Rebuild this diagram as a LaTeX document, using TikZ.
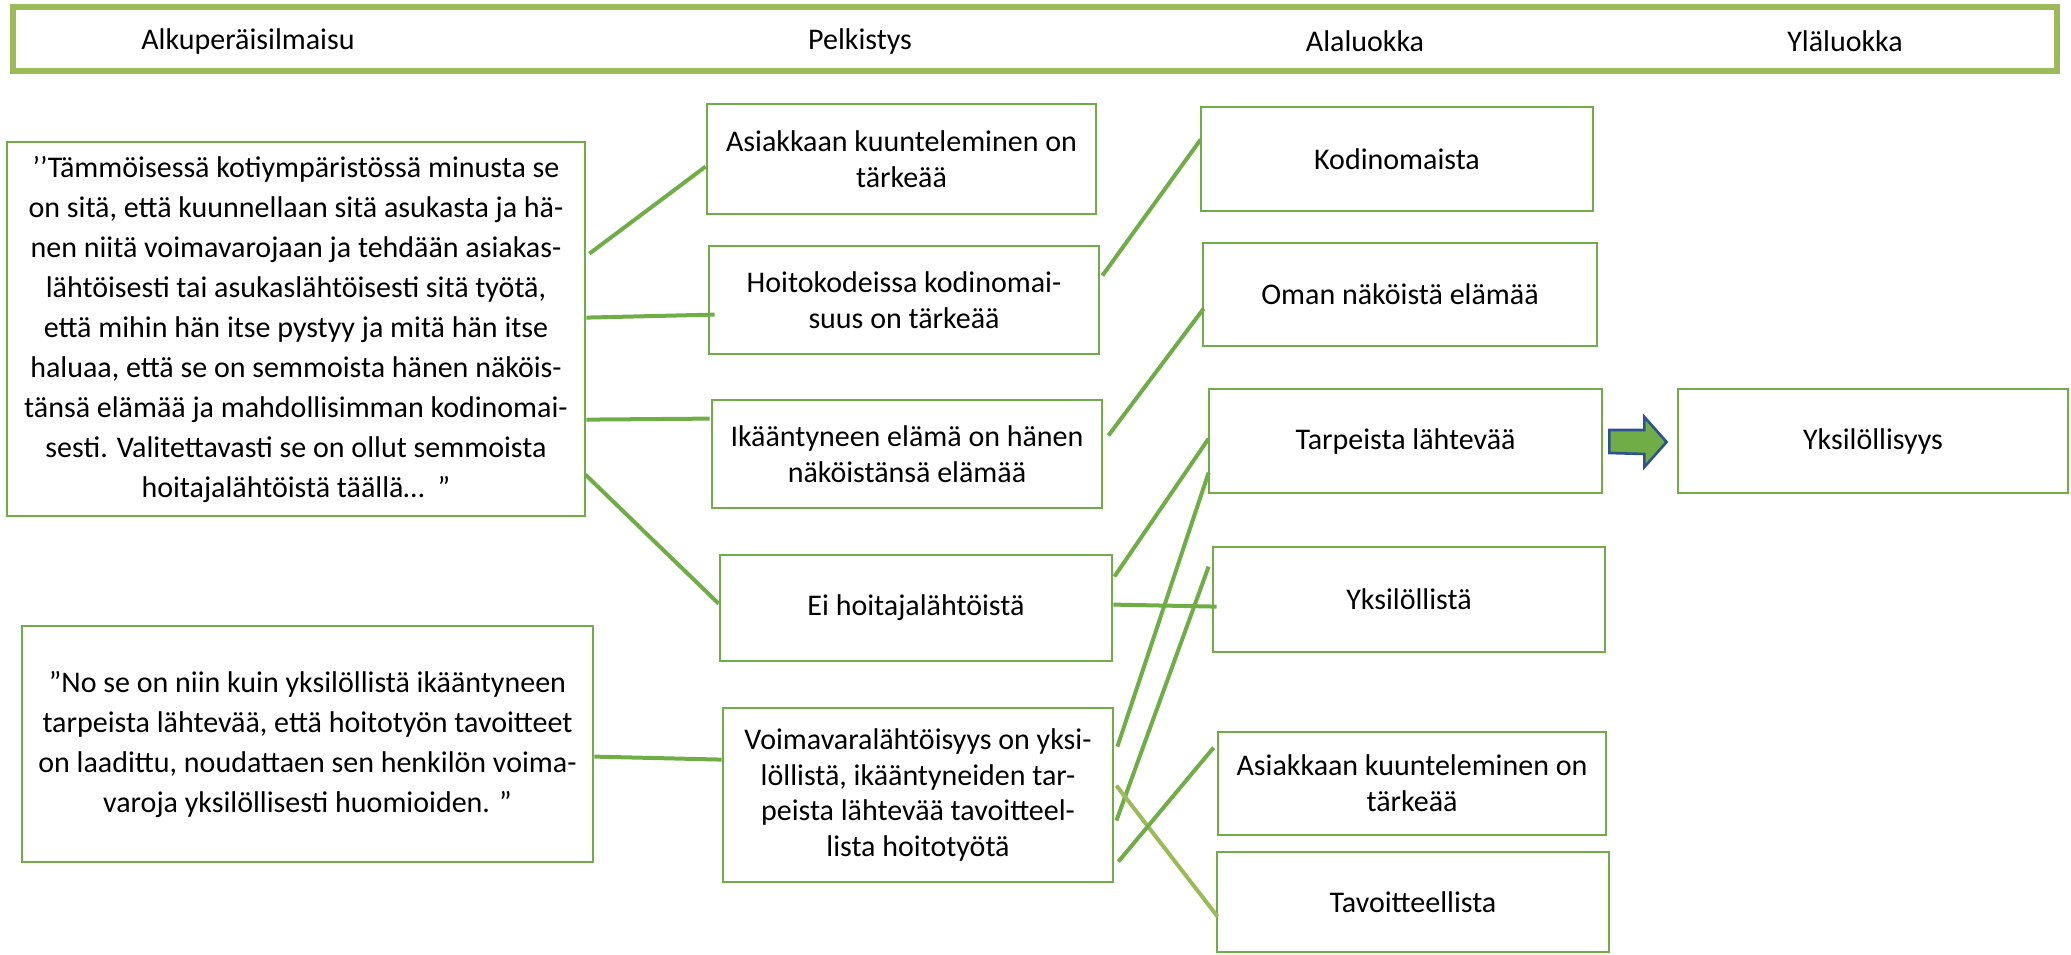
\documentclass[tikz,border=0pt]{standalone}
\usepackage{fontspec}
\setmainfont{Carlito}
\usetikzlibrary{calc}
\definecolor{gline}{HTML}{70AD47}
\definecolor{glight}{HTML}{9BBB59}
\definecolor{arrowblue}{HTML}{2F528F}
\tikzset{
  box/.style={draw=gline, line width=1.4pt, fill=white, align=center, inner sep=0pt,
    font=\fontsize{15}{17.9}\selectfont},
  qbox/.style={box, font=\fontsize{15}{20}\selectfont},
  hdrtext/.style={font=\fontsize{15}{18}\selectfont, inner sep=0pt},
  conn/.style={draw=gline, line width=2pt},
  connlight/.style={draw=glight, line width=2pt},
}
\begin{document}
\begin{tikzpicture}[x=0.5pt,y=-0.5pt]
\useasboundingbox (0,0) rectangle (2071,954);
% header bar
\node[draw=glight, line width=2.6pt, minimum width=1022pt, minimum height=32pt, inner sep=0pt] (hdr) at (1035,39) {};
\node[hdrtext] (h1) at (248,41) {Alkuperäisilmaisu};
\node[hdrtext] (h2) at (860,41) {Pelkistys};
\node[hdrtext] (h3) at (1365,41) {Alaluokka};
\node[hdrtext] (h4) at (1845,41) {Yläluokka};
% quotes
\node[qbox, minimum width=289pt, minimum height=187pt] (q1) at (296,329)
 {’’Tämmöisessä kotiympäristössä minusta se\\
  on sitä, että kuunnellaan sitä asukasta ja hä-\\
  nen niitä voimavarojaan ja tehdään asiakas-\\
  lähtöisesti tai asukaslähtöisesti sitä työtä,\\
  että mihin hän itse pystyy ja mitä hän itse\\
  haluaa, että se on semmoista hänen näköis-\\
  tänsä elämää ja mahdollisimman kodinomai-\\
  sesti. Valitettavasti se on ollut semmoista\\
  hoitajalähtöistä täällä…\ \ ”};
\node[qbox, minimum width=285.5pt, minimum height=118pt] (q2) at (307.5,744)
 {”No se on niin kuin yksilöllistä ikääntyneen\\
  tarpeista lähtevää, että hoitotyön tavoitteet\\
  on laadittu, noudattaen sen henkilön voima-\\
  varoja yksilöllisesti huomioiden. ”};
% pelkistys
\node[box, minimum width=194.5pt, minimum height=55pt] (p1) at (901.5,159) {Asiakkaan kuunteleminen on\\tärkeää};
\node[box, minimum width=195pt, minimum height=54pt] (p2) at (904,300) {Hoitokodeissa kodinomai-\\suus on tärkeää};
\node[box, minimum width=195pt, minimum height=54pt] (p3) at (907,454) {Ikääntyneen elämä on hänen\\näköistänsä elämää};
\node[box, minimum width=196pt, minimum height=53pt] (p4) at (916,608) {Ei hoitajalähtöistä};
\node[box, minimum width=195pt, minimum height=87pt] (p5) at (918,795) {Voimavaralähtöisyys on yksi-\\löllistä, ikääntyneiden tar-\\peista lähtevää tavoitteel-\\lista hoitotyötä};
% alaluokka
\node[box, minimum width=196pt, minimum height=52pt] (a1) at (1397,159) {Kodinomaista};
\node[box, minimum width=197pt, minimum height=51.5pt] (a2) at (1400,294.5) {Oman näköistä elämää};
\node[box, minimum width=196.5pt, minimum height=52pt] (a3) at (1405.5,441) {Tarpeista lähtevää};
\node[box, minimum width=196pt, minimum height=52.5pt] (a4) at (1409,599.5) {Yksilöllistä};
\node[box, minimum width=194pt, minimum height=51.5pt] (a5) at (1412,783.5) {Asiakkaan kuunteleminen on\\tärkeää};
\node[box, minimum width=196pt, minimum height=50pt] (a6) at (1413,902) {Tavoitteellista};
% yläluokka
\node[box, minimum width=195pt, minimum height=52pt] (y1) at (1873,441) {Yksilöllisyys};
% block arrow
\filldraw[fill=gline, draw=arrowblue, line width=1.3pt, line join=miter]
  ($(a3.east)+(6,-11)$) -- ++(35,0) -- ++(0,-13) -- ($(y1.west)+(-10,1)$)
  -- ($(a3.east)+(41,26)$) -- ++(0,-13) -- ($(a3.east)+(6,12)$) -- cycle;
% connectors
\draw[conn] ($(q1.north east)+(3,113)$) -- ($(p1.north west)+(0,64)$);
\draw[conn] ($(q1.north east)+(0,177)$) -- ($(p2.north west)+(7,70)$);
\draw[conn] ($(q1.north east)+(0,279)$) -- ($(p3.north west)+(-1,20)$);
\draw[conn] ($(q1.north east)+(-1,334)$) -- ($(p4.north west)+(0,50)$);
\draw[conn] ($(q2.north east)+(0,132)$) -- ($(p5.north west)+(0,53)$);
\draw[conn] ($(p2.north east)+(2,31)$) -- ($(a1.north west)+(1,34)$);
\draw[conn] ($(p3.north east)+(5,37)$) -- ($(a2.north west)+(2,67)$);
\draw[conn] ($(p4.north east)+(1,23)$) -- ($(a3.north west)+(1,51)$);
\draw[conn] ($(p4.north east)+(0,51)$) -- ($(a4.north west)+(5,61)$);
\draw[conn] ($(p5.north east)+(3,40)$) -- ($(a3.north west)+(1,85)$);
\draw[conn] ($(p5.north east)+(2,114)$) -- ($(a4.north west)+(-3,21)$);
\draw[connlight] ($(p5.north east)+(2,79)$) -- ($(a6.north west)+(2,66)$);
\draw[conn] ($(p5.north east)+(4,155)$) -- ($(a5.north west)+(-3,17)$);
\end{tikzpicture}
\end{document}
